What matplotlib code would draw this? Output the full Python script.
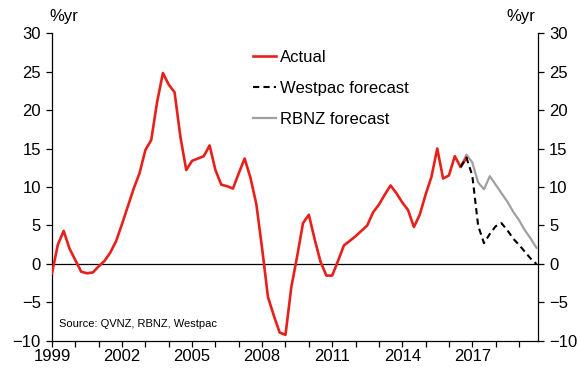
import numpy as np
import matplotlib
matplotlib.use("Agg")
import matplotlib.pyplot as plt
from matplotlib.ticker import MultipleLocator, FixedLocator

plt.rcParams["font.family"] = ["Liberation Sans", "DejaVu Sans"]

# Quarterly house price inflation, %yr, from 1999 Q1
start_year = 1999
actual = [-1.2, 2.5, 4.3, 2.0, 0.5, -1.0, -1.2, -1.1, -0.3, 0.4, 1.5, 3.0,
          5.2, 7.5, 9.8, 11.8, 14.8, 16.1, 21.0, 24.8, 23.3, 22.3, 16.5, 12.2,
          13.4, 13.7, 14.0, 15.4, 12.2, 10.3, 10.1, 9.8, 11.8, 13.7, 11.2, 7.8,
          2.0, -4.3, -6.7, -8.9, -9.2, -3.0, 1.0, 5.3, 6.4, 3.2, 0.3, -1.5,
          -1.5, 0.4, 2.4, 3.0, 3.6, 4.3, 5.0, 6.7, 7.7, 9.0, 10.2, 9.2,
          8.0, 7.0, 4.8, 6.4, 9.0, 11.3, 15.0, 11.1, 11.5, 14.0, 12.6, 13.8]
# forecasts start at the 71st quarter (2016 Q3)
forecast_start = 70
westpac = [12.6, 13.8, 11.5, 5.0, 2.7, 3.9, 4.9, 5.3, 4.4, 3.3, 2.5, 1.6, 0.7, 0.0]
rbnz = [12.6, 14.2, 13.2, 10.6, 9.7, 11.4, 10.3, 9.2, 8.1, 6.8, 5.7, 4.4, 3.3, 2.1]
year_labels = [1999, 2002, 2005, 2008, 2011, 2014, 2017]

x_act = start_year + np.arange(len(actual)) / 4
x_fc_w = start_year + (forecast_start + np.arange(len(westpac))) / 4
x_fc_r = start_year + (forecast_start + np.arange(len(rbnz))) / 4

FS = 12

fig = plt.figure(figsize=(5.79, 3.68), dpi=100)
ax = fig.add_axes([0.0898, 0.0734, 0.8396, 0.8369])

ax.axhline(0, color="black", linewidth=0.9, zorder=1)
ax.plot(x_fc_r, rbnz, color="#a0a0a0", linewidth=1.6, label="RBNZ forecast", zorder=2)
ax.plot(x_act, actual, color="#e8201a", linewidth=1.9, label="Actual", zorder=3)
ax.plot(x_fc_w, westpac, color="black", linewidth=1.5, linestyle=(0, (3, 2)),
        label="Westpac forecast", zorder=4)

ax.set_xlim(1999, 2019.82)
ax.set_ylim(-10, 30)
ax.yaxis.set_major_locator(MultipleLocator(5))
ax.xaxis.set_major_locator(FixedLocator(year_labels))
ax.xaxis.set_minor_locator(MultipleLocator(1))
ax.xaxis.set_major_formatter(lambda v, p: f"{int(round(v))}")

ax.spines["top"].set_visible(False)
ax.spines["right"].set_visible(False)
for s in ["left", "bottom"]:
    ax.spines[s].set_linewidth(0.9)

ax.tick_params(axis="both", which="both", direction="out", labelsize=FS,
               width=0.9, length=4, pad=2)
ax.tick_params(axis="y", pad=4)

ax2 = ax.twinx()
ax2.set_ylim(-10, 30)
ax2.yaxis.set_major_locator(MultipleLocator(5))
ax2.spines["top"].set_visible(False)
ax2.spines["left"].set_visible(False)
ax2.spines["bottom"].set_visible(False)
ax2.spines["right"].set_linewidth(0.9)
ax2.tick_params(axis="y", direction="out", labelsize=FS, width=0.9, length=4, pad=4)

ax.text(-0.005, 1.03, "%yr", transform=ax.transAxes, fontsize=FS, ha="left", va="bottom")
ax.text(0.995, 1.03, "%yr", transform=ax.transAxes, fontsize=FS, ha="right", va="bottom")
ax.text(0.015, 0.055, "Source: QVNZ, RBNZ, Westpac", transform=ax.transAxes,
        fontsize=8, ha="left", va="center")

handles, labels = ax.get_legend_handles_labels()
order = [labels.index(l) for l in ["Actual", "Westpac forecast", "RBNZ forecast"]]
ax.legend([handles[i] for i in order], [labels[i] for i in order],
          loc="upper left", bbox_to_anchor=(0.40, 0.967), frameon=False,
          fontsize=FS, handlelength=1.4, handletextpad=0.2, labelspacing=0.97,
          borderaxespad=0)

fig.savefig("out.png", dpi=100)
